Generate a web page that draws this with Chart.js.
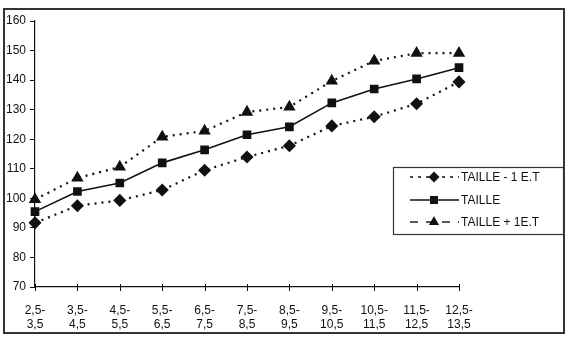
<!DOCTYPE html>
<html>
<head>
<meta charset="utf-8">
<script src="https://cdn.jsdelivr.net/npm/chart.js@4.4.1/dist/chart.umd.min.js"></script>
<style>
  html, body { margin: 0; padding: 0; background: #fff; }
  #wrap { position: relative; width: 580px; height: 346px; }
  #frame { position: absolute; left: 3px; top: 8px; width: 558px; height: 322px; border: 2px solid #333; pointer-events: none; }
</style>
</head>
<body>
<div id="wrap">
  <canvas id="c" width="580" height="346"></canvas>
  <div id="frame"></div>
</div>
<script>
const categories = [["2,5-","3,5"],["3,5-","4,5"],["4,5-","5,5"],["5,5-","6,5"],["6,5-","7,5"],["7,5-","8,5"],["8,5-","9,5"],["9,5-","10,5"],["10,5-","11,5"],["11,5-","12,5"],["12,5-","13,5"]];
const tailleMinus = [91.7, 97.5, 99.3, 102.8, 109.5, 114, 117.8, 124.5, 127.6, 132, 139.4];
const taille      = [95.5, 102.3, 105.2, 112, 116.4, 121.5, 124.2, 132.3, 137, 140.4, 144.2];
const taillePlus  = [99.6, 106.9, 110.6, 120.8, 122.8, 129.2, 130.9, 139.7, 146.5, 149.1, 149.1];
const seriesNames = ["TAILLE - 1 E.T", "TAILLE", "TAILLE + 1E.T"];
const yTicks = { min: 70, max: 160, step: 10 };

const ink = '#111';
const FONT = '"Liberation Sans", Arial, sans-serif';

const legendPlugin = {
  id: 'boxLegend',
  afterDraw(chart) {
    const ctx = chart.ctx;
    const x0 = 393, y0 = 167, w = 170, h = 67;
    ctx.save();
    ctx.fillStyle = '#fff';
    ctx.fillRect(x0, y0, w, h);
    ctx.strokeStyle = '#333';
    ctx.lineWidth = 1.2;
    ctx.strokeRect(x0 + 0.5, y0 + 0.5, w, h);
    const rows = [177, 200, 222];
    chart.data.datasets.forEach((ds, i) => {
      const y = rows[i];
      ctx.strokeStyle = ds.borderColor;
      ctx.lineWidth = i === 1 ? 1.6 : 1.4;
      ctx.setLineDash(ds.legendDash || []);
      ctx.beginPath();
      ctx.moveTo(410, y);
      ctx.lineTo(459, y);
      ctx.stroke();
      ctx.setLineDash([]);
      ctx.fillStyle = ink;
      ctx.strokeStyle = ink;
      Chart.helpers.drawPoint(ctx, {
        pointStyle: ds.pointStyle,
        radius: ds.pointRadius - 0.5,
        borderWidth: 1,
        rotation: 0
      }, 434, y);
      ctx.fillStyle = ink;
      ctx.font = '12px ' + FONT;
      ctx.textBaseline = 'middle';
      ctx.textAlign = 'left';
      ctx.fillText(ds.label, 461, y + 1);
    });
    ctx.restore();
  }
};

const crossTicks = {
  id: 'crossTicks',
  afterDraw(chart) {
    const xs = chart.scales.x;
    const ctx = chart.ctx;
    ctx.save();
    ctx.strokeStyle = ink;
    ctx.lineWidth = 1;
    const yb = chart.chartArea.bottom;
    xs.ticks.forEach((t, i) => {
      const px = Math.round(xs.getPixelForTick(i)) + 0.5;
      ctx.beginPath();
      ctx.moveTo(px, yb - 3);
      ctx.lineTo(px, yb + 4);
      ctx.stroke();
    });
    ctx.restore();
  }
};

const common = { borderColor: ink, backgroundColor: ink, pointBackgroundColor: ink, pointBorderColor: ink, borderWidth: 1.6, tension: 0, fill: false };

new Chart(document.getElementById('c'), {
  type: 'line',
  data: {
    labels: categories,
    datasets: [
      Object.assign({}, common, { label: seriesNames[0], data: tailleMinus, borderDash: [2, 5], legendDash: [3, 5], pointStyle: 'rectRot', pointRadius: 5, borderWidth: 2.2 }),
      Object.assign({}, common, { label: seriesNames[1], data: taille, pointStyle: 'rect', pointRadius: 5 }),
      Object.assign({}, common, { label: seriesNames[2], data: taillePlus, borderDash: [2, 5], legendDash: [8, 8], pointStyle: 'triangle', pointRadius: 5, borderWidth: 2.2 })
    ]
  },
  options: {
    responsive: false,
    animation: false,
    devicePixelRatio: 1,
    layout: { padding: { left: 0, right: 121, top: 21, bottom: 0 } },
    plugins: { legend: { display: false }, tooltip: { enabled: false } },
    scales: {
      x: {
        offset: false,
        grid: { display: false, drawOnChartArea: false },
        border: { display: true, color: ink, width: 1.2 },
        ticks: { color: ink, font: { family: FONT, size: 12 }, padding: 8, maxRotation: 0, autoSkip: false },
        afterFit(s) { s.height = 59; }
      },
      y: {
        min: yTicks.min, max: yTicks.max,
        grid: { drawOnChartArea: false, tickLength: 5, color: ink },
        border: { display: true, color: ink, width: 1.2 },
        ticks: { stepSize: yTicks.step, color: ink, font: { family: FONT, size: 12 }, padding: 4 },
        afterFit(s) { s.width = 35; }
      }
    }
  },
  plugins: [crossTicks, legendPlugin]
});
</script>
</body>
</html>
